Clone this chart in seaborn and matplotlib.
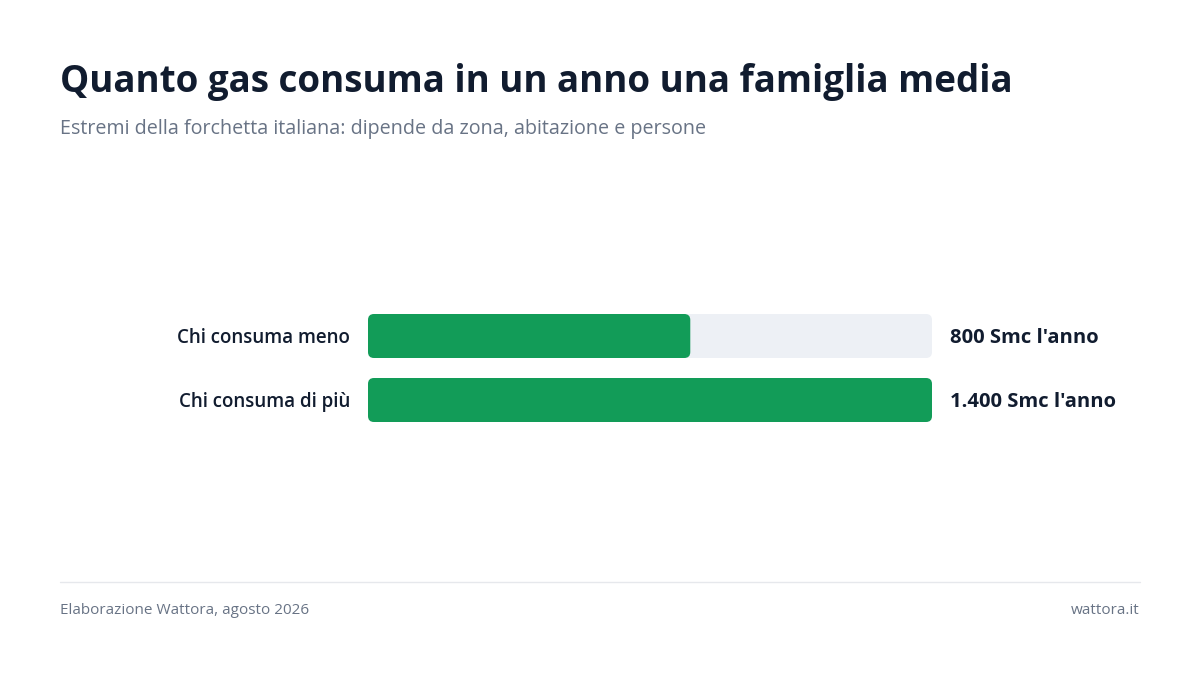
import matplotlib
matplotlib.use("Agg")
from matplotlib import pyplot as plt
from matplotlib.patches import FancyBboxPatch
import pandas as pd
import seaborn as sns

categorie = ["Chi consuma meno", "Chi consuma di più"]
consumi = [800, 1400]
etichette = ["800 Smc l'anno", "1.400 Smc l'anno"]
massimo = 1400

titolo = "Quanto gas consuma in un anno una famiglia media"
sottotitolo = "Estremi della forchetta italiana: dipende da zona, abitazione e persone"
fonte = "Elaborazione Wattora, agosto 2026"
sito = "wattora.it"

verde = "#129c58"
traccia = "#edf0f5"
scuro = "#111c2f"
grigio = "#687385"

sns.set_theme(style="white")
plt.rcParams["font.family"] = ["Open Sans", "DejaVu Sans"]

df = pd.DataFrame({"categoria": categorie, "valore": consumi, "massimo": [massimo] * len(categorie)})

W, H = 1200, 675
fig = plt.figure(figsize=(12, 6.75), dpi=100)
fig.patch.set_facecolor("white")

# axes placed in pixel terms: bars from x=368 to 932, y=314 to 422
ax = fig.add_axes([368 / W, 1 - 422 / H, 564 / W, 108 / H])
larg = 44 / 64
sns.barplot(data=df, y="categoria", x="massimo", color=traccia, width=larg, saturation=1, ax=ax, orient="h")
sns.barplot(data=df, y="categoria", x="valore", color=verde, width=larg, saturation=1, ax=ax, orient="h")
ax.set_xlim(0, massimo)
ax.set_ylim(1 + larg / 2, -larg / 2)

# swap square bars for rounded ones
px_x = 564 / massimo
px_y = 64
raggio = 6 / px_x
for p in list(ax.patches):
    x0, y0 = p.get_x(), p.get_y()
    w, h = p.get_width(), p.get_height()
    col = p.get_facecolor()
    p.remove()
    ax.add_patch(FancyBboxPatch((x0, y0), w, h,
                                boxstyle=f"round,pad=0,rounding_size={raggio}",
                                mutation_aspect=px_x / px_y,
                                facecolor=col, edgecolor="none"))

ax.set_xlabel("")
ax.set_ylabel("")
ax.set_xticks([])
ax.set_yticks([])
for s in ax.spines.values():
    s.set_visible(False)

for i, cat in enumerate(categorie):
    ax.annotate(cat, xy=(0, i), xytext=(-18, -2), textcoords="offset pixels",
                ha="right", va="center", fontsize=13.5, fontweight="semibold", color=scuro)
    ax.annotate(etichette[i], xy=(massimo, i), xytext=(18, -2), textcoords="offset pixels",
                ha="left", va="center", fontsize=14.5, fontweight="bold", color=scuro)

fig.text(60 / W, 1 - 82 / H, titolo, ha="left", va="center", fontsize=26.5, fontweight="bold", color=scuro)
fig.text(60 / W, 1 - 129 / H, sottotitolo, ha="left", va="center", fontsize=14.2, color=grigio)

fig.add_artist(plt.Line2D([60 / W, 1140 / W], [1 - 582 / H, 1 - 582 / H], color="#e6e8ec", lw=1))
fig.text(60 / W, 1 - 611 / H, fonte, ha="left", va="center", fontsize=11, color=grigio)
fig.text(1140 / W, 1 - 611 / H, sito, ha="right", va="center", fontsize=11, color=grigio)

fig.savefig("out.png", dpi=100, facecolor="white")
